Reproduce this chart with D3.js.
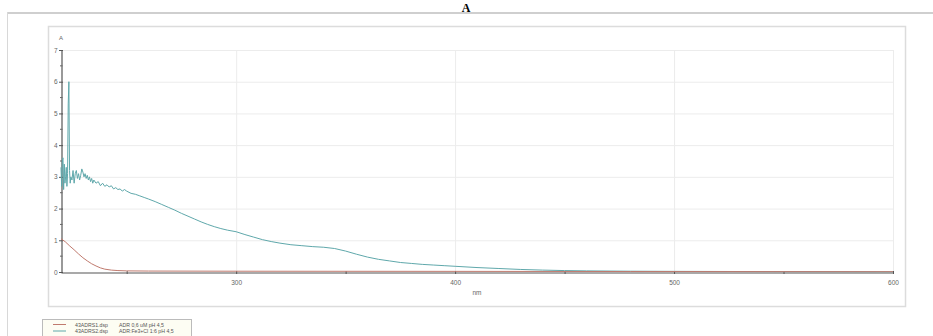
<!DOCTYPE html>
<html><head><meta charset="utf-8">
<script src="https://cdn.jsdelivr.net/npm/d3@7"></script>
<style>body{margin:0;background:#fff;}svg{display:block;}</style>
</head><body>
<svg id="c" width="933" height="336"></svg>
<script>
const xTicks = [300, 400, 500, 600];
const yTicks = [0, 1, 2, 3, 4, 5, 6, 7];
const seriesNames = ["43ADRS1.dsp", "43ADRS2.dsp"];
const seriesDesc = ["ADR 0,6 uM pH 4,5", "ADR:Fe3+Cl 1:6 pH 4,5"];
const seriesColors = ["#c07a6e", "#5fa8ab"];
const wavelengthsRed = [220,222,224,226,228,230,232,234,236,238,240,243,246,250,260,300,400,480,600];
const absRed = [1.05,0.95,0.82,0.7,0.57,0.45,0.35,0.26,0.19,0.13,0.09,0.06,0.045,0.035,0.03,0.025,0.02,0.015,0.01];
const wavelengthsTeal = [220,220.3,220.6,220.9,221.2,221.5,221.8,222.1,222.4,222.7,223.0,223.3,223.6,223.9,224.2,224.5,225,225.5,226,226.5,227,227.5,228,228.5,229,229.5,230,230.5,231,231.5,232,232.5,233,233.5,234,234.5,235,236,237,238,239,240,241,242,243,244,245,246,247,248,249,250,252,254,256,258,260,263,266,269,272,275,278,281,284,287,290,293,296,300,304,308,312,316,320,325,330,335,340,345,350,355,360,365,370,375,380,385,390,395,400,410,420,430,440,450,460,480,500,550,600];
const absTeal = [3.3,2.7,3.5,3.6,2.6,3.4,2.8,3.0,3.3,2.7,3.1,5.3,6.0,3.2,2.8,3.0,2.9,3.2,2.8,3.1,3.2,2.95,3.1,2.9,3.05,3.25,3.15,3.0,3.1,2.95,3.05,2.9,3.0,2.85,2.95,2.8,2.9,2.8,2.85,2.72,2.8,2.7,2.75,2.68,2.72,2.62,2.66,2.6,2.62,2.55,2.6,2.55,2.48,2.45,2.4,2.35,2.3,2.22,2.13,2.04,1.95,1.85,1.76,1.67,1.58,1.5,1.43,1.37,1.32,1.27,1.18,1.1,1.02,0.96,0.91,0.86,0.83,0.8,0.78,0.74,0.66,0.56,0.47,0.4,0.35,0.3,0.27,0.24,0.22,0.2,0.18,0.14,0.11,0.08,0.06,0.045,0.035,0.025,0.02,0.012,0.006];

const svg = d3.select("#c");
const W = 933, H = 336;
const L = 61, R = 893, T = 50, B = 272;
const x = d3.scaleLinear().domain([220, 600]).range([L, R]);
const y = d3.scaleLinear().domain([0, 7]).range([B, T]);
const FONT = "Liberation Sans, Arial, sans-serif";
const TXT = "#666666";

// big title
svg.append("text").attr("x", 466).attr("y", 11.5).attr("text-anchor", "middle")
  .attr("font-family", "Liberation Serif, serif").attr("font-weight", "bold").attr("font-size", 12).attr("fill", "#000").text("A");

// outer panel
svg.append("line").attr("x1", 7).attr("x2", W).attr("y1", 13).attr("y2", 13).attr("stroke", "#cfcfcf").attr("stroke-width", 2);
svg.append("line").attr("x1", 7.5).attr("x2", 7.5).attr("y1", 12).attr("y2", H).attr("stroke", "#d8d8d8").attr("stroke-width", 1);

// inner box
svg.append("rect").attr("x", 48.5).attr("y", 26.5).attr("width", 857).attr("height", 280)
  .attr("fill", "none").attr("stroke", "#dcdcdc").attr("stroke-width", 1.5);

// gridlines
const g = svg.append("g");
g.selectAll(".hg").data(yTicks.filter(d => d > 0)).join("line")
  .attr("x1", L).attr("x2", R).attr("y1", d => y(d) + 0.5).attr("y2", d => y(d) + 0.5)
  .attr("stroke", "#ececec").attr("stroke-width", 1);
g.selectAll(".vg").data(xTicks).join("line")
  .attr("x1", d => x(d) + 0.5).attr("x2", d => x(d) + 0.5).attr("y1", T).attr("y2", B)
  .attr("stroke", "#ececec").attr("stroke-width", 1);

// axes
const xAxis = d3.axisBottom(x).tickValues(d3.range(250, 601, 50)).tickSize(0).tickFormat(d => xTicks.includes(d) ? d : "");
const ax = svg.append("g").attr("transform", `translate(0,${B + 0.5})`).call(xAxis);
ax.select(".domain").attr("stroke", "#555").attr("stroke-width", 1.2);
ax.selectAll("text").attr("dy", 0).attr("y", 12).attr("fill", TXT).attr("font-family", FONT).attr("font-size", 6.5);
ax.selectAll(".tick").append("line").attr("y1", -1.5).attr("y2", 1.5).attr("stroke", "#555");

const yAxis = d3.axisLeft(y).tickValues(yTicks).tickSize(0).tickPadding(4).tickFormat(d3.format("d"));
const ay = svg.append("g").attr("transform", `translate(${L + 0.5},0)`).call(yAxis);
ay.select(".domain").attr("stroke", "#555").attr("stroke-width", 1.2);
ay.selectAll("text").attr("fill", TXT).attr("font-family", FONT).attr("font-size", 6.5);
ay.selectAll(".tick").append("line").attr("x1", -2.5).attr("x2", 1.5).attr("stroke", "#555");
ay.selectAll(".minor").data(d3.range(0.5, 7, 1)).join("line").attr("class", "minor")
  .attr("x1", -1.5).attr("x2", 1).attr("y1", d => y(d)).attr("y2", d => y(d)).attr("stroke", "#666");

svg.append("text").attr("x", 61).attr("y", 40).attr("text-anchor", "middle").attr("fill", TXT)
  .attr("font-family", FONT).attr("font-size", 6).text("A");
svg.append("text").attr("x", 477).attr("y", 295).attr("text-anchor", "middle").attr("fill", TXT)
  .attr("font-family", FONT).attr("font-size", 6.5).text("nm");

// lines
const line = d3.line().x(d => x(d[0])).y(d => y(d[1]));
const dataRed = wavelengthsRed.map((w, i) => [w, absRed[i]]);
const dataTeal = wavelengthsTeal.map((w, i) => [w, absTeal[i]]);
svg.append("path").datum(dataTeal).attr("d", line).attr("fill", "none").attr("stroke", seriesColors[1]).attr("stroke-width", 1);
svg.append("path").datum(dataRed).attr("d", line).attr("fill", "none").attr("stroke", seriesColors[0]).attr("stroke-width", 1);

// legend
const lg = svg.append("g");
lg.append("rect").attr("x", 42.5).attr("y", 319.5).attr("width", 149).attr("height", 20)
  .attr("fill", "#fdfdf3").attr("stroke", "#bbb").attr("stroke-width", 1);
seriesNames.forEach((n, i) => {
  const yy = 324.5 + i * 6.5;
  lg.append("line").attr("x1", 53).attr("x2", 66).attr("y1", yy).attr("y2", yy).attr("stroke", seriesColors[i]).attr("stroke-width", 1);
  lg.append("text").attr("x", 75).attr("y", yy + 2).attr("font-family", FONT).attr("font-size", 5.2).attr("fill", "#555").text(n);
  lg.append("text").attr("x", 119).attr("y", yy + 2).attr("font-family", FONT).attr("font-size", 5.2).attr("fill", "#555").text(seriesDesc[i]);
});
</script>
</body></html>
